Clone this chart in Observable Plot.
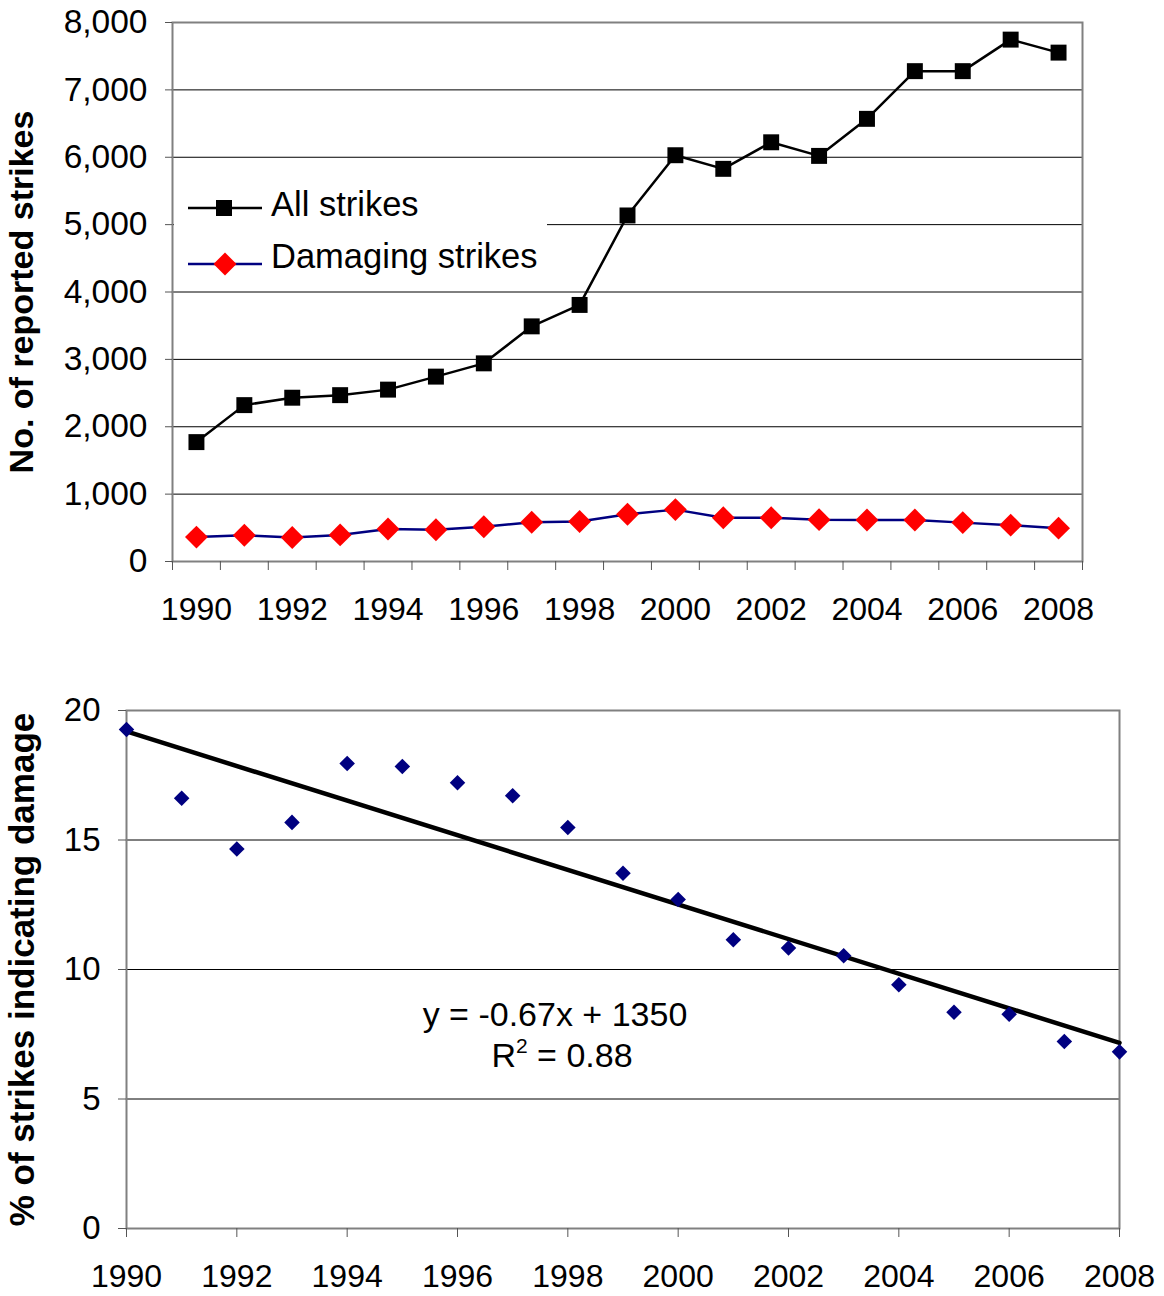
<!DOCTYPE html>
<html>
<head>
<meta charset="utf-8">
<script src="https://cdn.jsdelivr.net/npm/d3@7"></script>
<script src="https://cdn.jsdelivr.net/npm/@observablehq/plot@0.6"></script>
<style>
  html, body { margin: 0; padding: 0; background: white; }
  #wrap { position: relative; width: 1164px; height: 1296px; font-family: "Liberation Sans", Arial, sans-serif; }
  #wrap svg { display: block; }
  #top g[aria-label="y-axis label"], #top g[aria-label="y-axis label"] text { font-weight: bold; font-size: 34px; }
  #bottom g[aria-label="y-axis label"], #bottom g[aria-label="y-axis label"] text { font-weight: bold; font-size: 35px; }
  #overlay { position: absolute; left: 0; top: 0; pointer-events: none; }
</style>
</head>
<body>
<div id="wrap"></div>
<script>
// ---- Data ----
const years = [1990, 1991, 1992, 1993, 1994, 1995, 1996, 1997, 1998, 1999, 2000, 2001, 2002, 2003, 2004, 2005, 2006, 2007, 2008];
const allStrikes = [1772, 2321, 2431, 2469, 2551, 2744, 2941, 3490, 3808, 5136, 6030, 5828, 6222, 6020, 6570, 7278, 7278, 7746, 7553];
const damagingStrikes = [362, 390, 357, 395, 483, 472, 516, 582, 593, 702, 770, 649, 649, 621, 616, 616, 577, 539, 495];
const pctDamage = [19.27, 16.61, 14.65, 15.68, 17.95, 17.84, 17.21, 16.71, 15.48, 13.72, 12.70, 11.15, 10.83, 10.53, 9.41, 8.35, 8.27, 7.22, 6.82];

const topYTicks = [0, 1000, 2000, 3000, 4000, 5000, 6000, 7000, 8000];
const bottomYTicks = [0, 5, 10, 15, 20];
const yearLabels = [1990, 1992, 1994, 1996, 1998, 2000, 2002, 2004, 2006, 2008];
const seriesNames = ["All strikes", "Damaging strikes"];
const topYTitle = "No. of reported strikes";
const bottomYTitle = "% of strikes indicating damage";
const equationText = "y = -0.67x + 1350";
const r2Value = "0.88";

const FONT = '"Liberation Sans", Arial, sans-serif';
const width = 1164;

const table = years.map((y, i) => ({year: y, all: allStrikes[i], damaging: damagingStrikes[i], pct: pctDamage[i]}));
// category boundaries for the top (category) axis
const boundaries = [years[0] - 0.5, ...years.map(y => y + 0.5)];

const topChart = Plot.plot({
  width, height: 650,
  marginLeft: 172, marginRight: 82, marginTop: 22, marginBottom: 89,
  x: {domain: [years[0] - 0.5, years[years.length - 1] + 0.5]},
  y: {domain: [0, 8000]},
  style: {fontFamily: FONT, fontSize: "32px", color: "black", background: "white", overflow: "visible"},
  marks: [
    Plot.gridY(topYTicks.slice(1, -1), {stroke: "black", strokeOpacity: 1, strokeWidth: 1}),
    Plot.frame({stroke: "#808080", strokeWidth: 2}),
    Plot.axisY({ticks: topYTicks, tickSize: 7, tickPadding: 18, tickFormat: d3.format(","), fontSize: 33.5, stroke: "#555",
      label: topYTitle, labelAnchor: "center", labelOffset: 164, labelArrow: "none"}),
    Plot.axisX({ticks: boundaries, tickSize: 9, tickFormat: () => "", label: null, stroke: "#555"}),
    Plot.axisX({ticks: yearLabels, tickSize: 0, tickPadding: 36, tickFormat: d => String(d), label: null, fontSize: 32}),
    Plot.line(table, {x: "year", y: "damaging", stroke: "#000080", strokeWidth: 2.5}),
    Plot.line(table, {x: "year", y: "all", stroke: "black", strokeWidth: 2.5}),
    Plot.dot(table, {x: "year", y: "all", symbol: "square", fill: "black", r: 9}),
    Plot.dot(table, {x: "year", y: "damaging", symbol: "diamond2", fill: "#ff0000", r: 10.3})
  ]
});
topChart.setAttribute("id", "top");

const bottomChart = Plot.plot({
  width, height: 646,
  marginLeft: 126, marginRight: 45, marginTop: 60, marginBottom: 68,
  x: {domain: [years[0], years[years.length - 1]]},
  y: {domain: [0, 20]},
  style: {fontFamily: FONT, fontSize: "32px", color: "black", background: "white", overflow: "visible"},
  marks: [
    Plot.gridY(bottomYTicks.slice(1, -1), {stroke: "black", strokeOpacity: 1, strokeWidth: 1}),
    Plot.frame({stroke: "#808080", strokeWidth: 2}),
    Plot.axisY({ticks: bottomYTicks, tickSize: 8, tickPadding: 18, fontSize: 33, stroke: "#555",
      label: bottomYTitle, labelAnchor: "center", labelOffset: 117, labelArrow: "none"}),
    Plot.axisX({ticks: yearLabels, tickSize: 9, tickPadding: 27, tickFormat: d => String(d), label: null, fontSize: 32, stroke: "#555"}),
    Plot.linearRegressionY(table, {x: "year", y: "pct", ci: 0, stroke: "black", strokeWidth: 4.5}),
    Plot.dot(table, {x: "year", y: "pct", symbol: "diamond2", fill: "#000080", r: 7})
  ]
});
bottomChart.setAttribute("id", "bottom");

const wrap = document.getElementById("wrap");
wrap.appendChild(topChart);
wrap.appendChild(bottomChart);

// ---- Overlay: legend and regression annotation ----
const ov = d3.select(wrap).append("svg")
  .attr("id", "overlay").attr("width", width).attr("height", 1296)
  .style("font-family", FONT);

// legend box
ov.append("rect").attr("x", 174).attr("y", 171).attr("width", 373).attr("height", 114).attr("fill", "white");
const lg = [
  {name: seriesNames[0], y: 208, line: "black", sym: "square", fill: "black", tb: 216},
  {name: seriesNames[1], y: 264, line: "#000080", sym: "diamond", fill: "#ff0000", tb: 268}
];
lg.forEach(d => {
  ov.append("line").attr("x1", 188).attr("x2", 262).attr("y1", d.y).attr("y2", d.y)
    .attr("stroke", d.line).attr("stroke-width", 2.5);
  if (d.sym === "square") {
    ov.append("rect").attr("x", 224 - 8).attr("y", d.y - 8).attr("width", 16).attr("height", 16).attr("fill", d.fill);
  } else {
    ov.append("path").attr("d", `M225,${d.y - 11.5}L236.5,${d.y}L225,${d.y + 11.5}L213.5,${d.y}Z`).attr("fill", d.fill);
  }
  ov.append("text").attr("x", 271).attr("y", d.tb).attr("font-size", 34.5).attr("fill", "black").text(d.name);
});

// regression annotation
ov.append("text").attr("x", 555).attr("y", 1026).attr("text-anchor", "middle").attr("font-size", 34).text(equationText);
const r2 = ov.append("text").attr("x", 562).attr("y", 1067).attr("text-anchor", "middle").attr("font-size", 34);
r2.append("tspan").text("R");
r2.append("tspan").attr("font-size", 21).attr("dy", -14).text("2");
r2.append("tspan").attr("dy", 14).text(" = " + r2Value);
</script>
</body>
</html>
